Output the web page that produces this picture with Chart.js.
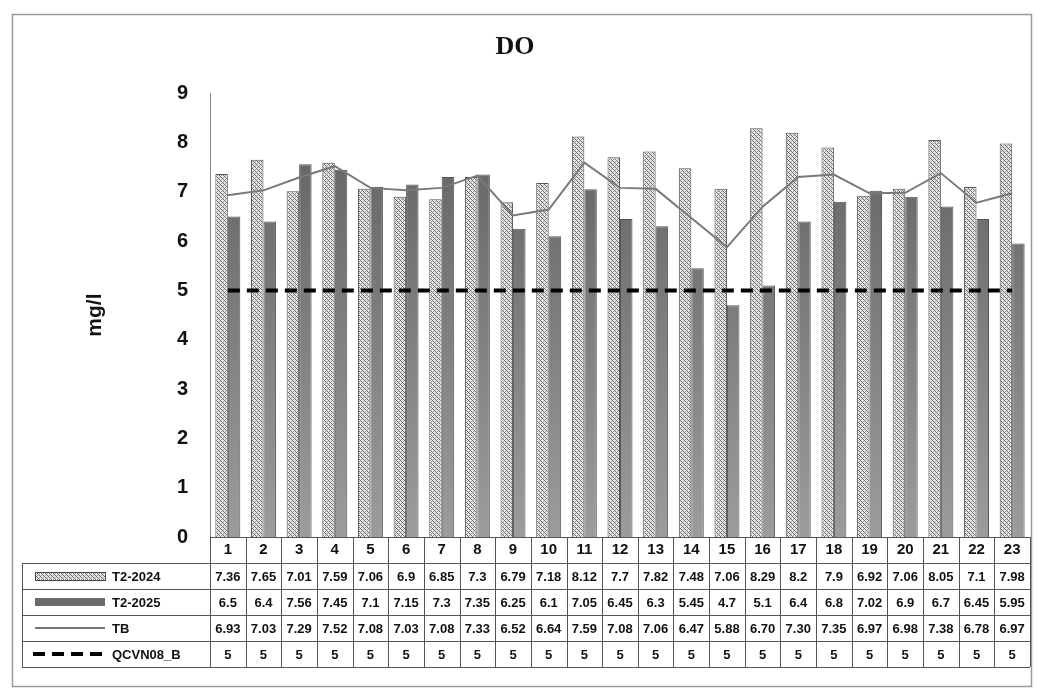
<!DOCTYPE html>
<html>
<head>
<meta charset="utf-8">
<script src="https://cdn.jsdelivr.net/npm/chart.js@4"></script>
<style>
  body { margin: 0; background: #fff; }
  #wrap { width: 1037px; height: 693px; position: relative; }
</style>
</head>
<body>
<div id="wrap"><canvas id="chart"></canvas></div>
<script>
// data
const stations = ["1","2","3","4","5","6","7","8","9","10","11","12","13","14","15","16","17","18","19","20","21","22","23"];
const t2024 = [7.36,7.65,7.01,7.59,7.06,6.9,6.85,7.3,6.79,7.18,8.12,7.7,7.82,7.48,7.06,8.29,8.2,7.9,6.92,7.06,8.05,7.1,7.98];
const t2025 = [6.5,6.4,7.56,7.45,7.1,7.15,7.3,7.35,6.25,6.1,7.05,6.45,6.3,5.45,4.7,5.1,6.4,6.8,7.02,6.9,6.7,6.45,5.95];
const tb = [6.93,7.03,7.29,7.52,7.08,7.03,7.08,7.33,6.52,6.64,7.59,7.08,7.06,6.47,5.88,6.70,7.30,7.35,6.97,6.98,7.38,6.78,6.97];
const qcvn = [5,5,5,5,5,5,5,5,5,5,5,5,5,5,5,5,5,5,5,5,5,5,5];
const yTicks = [0,1,2,3,4,5,6,7,8,9];

// hatched fill for T2-2024
function makeHatch() {
  const c = document.createElement('canvas');
  c.width = 4; c.height = 4;
  const g = c.getContext('2d');
  g.fillStyle = '#e8e8e8';
  g.fillRect(0, 0, 4, 4);
  g.fillStyle = '#6a6a6a';
  g.fillRect(0, 0, 1, 1);
  g.fillRect(2, 2, 1, 1);
  g.fillRect(1, 1, 1, 1);
  g.fillRect(3, 3, 1, 1);
  g.fillStyle = '#9a9a9a';
  g.fillRect(3, 1, 1, 1);
  g.fillRect(1, 3, 1, 1);
  return g.createPattern(c, 'repeat');
}
const hatch = makeHatch();

function darkFill(ctx) {
  const area = ctx.chart.chartArea;
  if (!area) return '#777';
  const gr = ctx.chart.ctx.createLinearGradient(0, area.top, 0, area.bottom);
  gr.addColorStop(0, '#5e5e5e');
  gr.addColorStop(1, '#9c9c9c');
  return gr;
}

const rowLabels = ["T2-2024", "T2-2025", "TB", "QCVN08_B"];
const rowValues = [
  t2024.map(v => String(v)),
  t2025.map(v => String(v)),
  tb.map(v => v.toFixed(2)),
  qcvn.map(v => String(v))
];

const tablePlugin = {
  id: 'dataTable',
  beforeDraw(chart) {
    const c = chart.ctx;
    c.save();
    c.strokeStyle = '#9a9a9a';
    c.lineWidth = 1.5;
    c.strokeRect(12.5, 14.5, 1019, 672);
    c.restore();
  },
  afterDraw(chart) {
    const c = chart.ctx;
    const a = chart.chartArea;
    const n = stations.length;
    const w = (a.right - a.left) / n;
    const rowTop = [a.bottom, a.bottom + 26, a.bottom + 52, a.bottom + 78, a.bottom + 104, a.bottom + 130];
    const leftX = 22;
    c.save();
    c.strokeStyle = '#555';
    c.lineWidth = 1;
    // horizontal lines
    c.beginPath();
    c.moveTo(a.left, rowTop[0] + 0.5); c.lineTo(a.right, rowTop[0] + 0.5);
    for (let r = 1; r < rowTop.length; r++) {
      c.moveTo(leftX, rowTop[r] + 0.5); c.lineTo(a.right, rowTop[r] + 0.5);
    }
    // vertical lines
    for (let i = 0; i <= n; i++) {
      const x = Math.round(a.left + i * w) + 0.5;
      c.moveTo(x, rowTop[0]); c.lineTo(x, rowTop[5]);
    }
    c.moveTo(leftX + 0.5, rowTop[1]); c.lineTo(leftX + 0.5, rowTop[5]);
    c.stroke();

    c.fillStyle = '#111';
    c.textAlign = 'center';
    c.textBaseline = 'middle';
    // station numbers
    c.font = 'bold 15px "Liberation Sans"';
    const xs = chart.scales.x;
    stations.forEach((s, i) => {
      c.fillText(s, xs.getPixelForValue(i), rowTop[0] + 13);
    });
    // values
    c.font = 'bold 13px "Liberation Sans"';
    rowValues.forEach((vals, r) => {
      vals.forEach((v, i) => {
        c.fillText(v, xs.getPixelForValue(i), rowTop[r + 1] + 14);
      });
    });
    // legend column
    c.textAlign = 'left';
    c.font = 'bold 13px "Liberation Sans"';
    rowLabels.forEach((lab, r) => {
      const cy = rowTop[r + 1] + 13;
      if (r === 0) {
        c.fillStyle = hatch; c.fillRect(35, cy - 4, 70, 8);
        c.strokeStyle = '#444'; c.strokeRect(35.5, cy - 3.5, 70, 8);
      } else if (r === 1) {
        c.fillStyle = '#6a6a6a'; c.fillRect(35, cy - 4, 70, 8);
      } else if (r === 2) {
        c.strokeStyle = '#777'; c.lineWidth = 2;
        c.beginPath(); c.moveTo(35, cy); c.lineTo(105, cy); c.stroke();
      } else {
        c.strokeStyle = '#000'; c.lineWidth = 4; c.setLineDash([12, 7]);
        c.beginPath(); c.moveTo(33, cy); c.lineTo(106, cy); c.stroke();
        c.setLineDash([]);
      }
      c.lineWidth = 1;
      c.fillStyle = '#111';
      c.fillText(lab, 112, cy + 1);
    });
    c.restore();
  }
};

new Chart(document.getElementById('chart'), {
  type: 'bar',
  data: {
    labels: stations,
    datasets: [
      {
        type: 'line', label: 'QCVN08_B', data: qcvn,
        borderColor: '#000', borderWidth: 4, borderDash: [12, 7],
        pointRadius: 0, fill: false, order: 0
      },
      {
        type: 'line', label: 'TB', data: tb,
        borderColor: '#7a7a7a', borderWidth: 2,
        pointRadius: 0, fill: false, tension: 0, order: 1
      },
      {
        label: 'T2-2024', data: t2024,
        backgroundColor: hatch, borderColor: '#555', borderWidth: 1,
        barPercentage: 1.0, categoryPercentage: 0.7, order: 2
      },
      {
        label: 'T2-2025', data: t2025,
        backgroundColor: darkFill, borderColor: '#555', borderWidth: 1,
        barPercentage: 1.0, categoryPercentage: 0.7, order: 2
      }
    ]
  },
  options: {
    responsive: true,
    maintainAspectRatio: false,
    animation: false,
    layout: { padding: { left: 0, right: 7, top: 0, bottom: 156 } },
    plugins: {
      legend: { display: false },
      tooltip: { enabled: false },
      title: {
        display: true, text: 'DO', color: '#111',
        font: { family: '"Liberation Serif"', size: 26, weight: 'bold' },
        padding: { top: 32, bottom: 30 }
      }
    },
    scales: {
      x: { display: false },
      y: {
        min: 0, max: 9,
        afterFit(scale) { scale.width = 210; },
        afterBuildTicks(scale) { scale.ticks = yTicks.map(v => ({ value: v })); },
        grid: { display: false, drawTicks: false },
        border: { display: true, color: '#888', width: 1 },
        ticks: {
          color: '#111', padding: 22,
          font: { family: '"Liberation Sans"', size: 20, weight: 'bold' }
        },
        title: {
          display: true, text: 'mg/l', color: '#111',
          font: { family: '"Liberation Sans"', size: 21, weight: 'bold' },
          padding: { top: 83, bottom: 0 }
        }
      }
    }
  },
  plugins: [tablePlugin]
});
</script>
</body>
</html>
